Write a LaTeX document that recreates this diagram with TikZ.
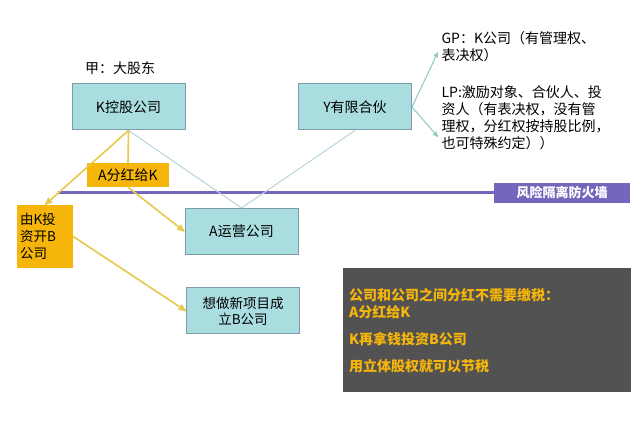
\documentclass[tikz,border=0pt]{standalone}
\usepackage{fontspec}
\setmainfont{Noto Sans CJK SC}
\usetikzlibrary{arrows,positioning,calc}
\definecolor{boxcyan}{HTML}{A9DDE0}
\definecolor{boxedge}{HTML}{7A9CA8}
\definecolor{gold}{HTML}{F5B50A}
\definecolor{goldline}{HTML}{E8C84A}
\definecolor{wallpurple}{HTML}{7566BC}
\definecolor{thinline}{HTML}{B8D4DC}
\definecolor{tealline}{HTML}{8CCBC0}
\begin{document}
\begin{tikzpicture}
  [
  x=1pt, y=-1pt, font=\fontsize{14}{17}\selectfont, >=stealth',
  company/.style={rectangle, minimum height=46pt, minimum width=113pt, draw=boxedge, line width=1pt, fill=boxcyan, align=center},
  tag/.style={rectangle, fill=gold, align=left, inner sep=3pt},
  yline/.style={draw=goldline, line width=1.6pt},
  pale/.style={draw=thinline, line width=1pt}
  ]
\useasboundingbox[fill=white] (0,0) rectangle (640,427);

\node[company] (k) at (128.5,107) {K控股公司};
\node[company] (y) at (355,107) {Y有限合伙};
\node[company] (a) at (241.5,231.5) {A运营公司};
\node[company, text width=100pt, font=\fontsize{13.5}{16}\selectfont] (b) at (243,311) {想做新项目成\\立B公司};
\node (gu) at (120,68) {甲：大股东};

% firewall
\draw[wallpurple, line width=3pt] (58,193) -- (500,193);
\node[fill=wallpurple, text=white, minimum width=136pt, minimum height=20pt, font=\fontsize{13}{14}\selectfont\bfseries] (wall) at (562,193) {风险隔离防火墙};

% links between companies
\draw[pale] (k.south) -- (a.north);
\draw[pale] (y.south) -- (a.north);

\node[tag, minimum width=82pt, minimum height=24pt] (fen) at (128,175) {A分红给K};
\node[tag, minimum width=56pt, minimum height=63pt, text width=50pt, inner sep=2pt, font=\fontsize{13.5}{17}\selectfont] (tou) at (45,236.5) {由K投\\资开B\\公司};

\draw[yline] (k.south) -- (fen.north);
\draw[yline, ->] (k.south) -- (tou.north);
\draw[yline, ->] (fen.south) -- (a.west);
\draw[yline, ->] (tou.east) -- (b.west);

% partners
\node[anchor=north west, align=left, text width=195pt] (gp) at (438,28) {GP：K公司（有管理权、\\表决权）};
\node[anchor=north west, align=left, text width=195pt] (lp) at (438,82) {LP:激励对象、合伙人、投\\资人（有表决权，没有管\\理权，分红权按持股比例，\\也可特殊约定））};
\draw[tealline, line width=1pt, ->] (y.east) -- (438,52);
\draw[tealline, line width=1pt, ->] (y.east) -- (438,137);

% note
\node[fill=black!68, text=gold, anchor=north west, minimum width=288pt, minimum height=124pt, text width=276pt, align=left, font=\fontsize{14}{17}\selectfont\bfseries] (note) at (343,268)
  {公司和公司之间分红不需要缴税：\\A分红给K\\[10pt]K再拿钱投资B公司\\[10pt]用立体股权就可以节税};
\end{tikzpicture}
\end{document}
